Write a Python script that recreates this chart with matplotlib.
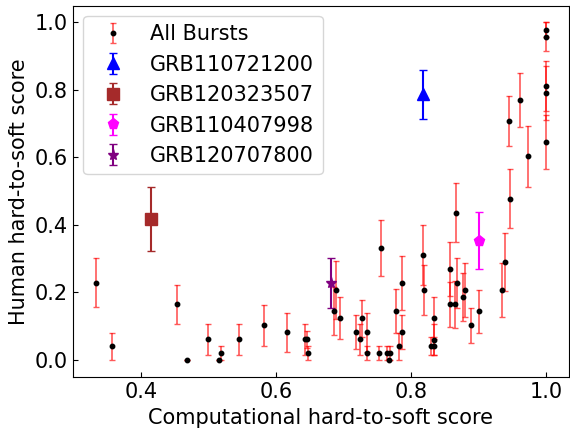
import numpy as np
import matplotlib
matplotlib.use("Agg")
import matplotlib.pyplot as plt

# all bursts: computational score, human score, error on human score
comp = [0.333, 0.357, 0.454, 0.468, 0.500, 0.516, 0.518, 0.546, 0.582, 0.616,
        0.643, 0.646, 0.648, 0.686, 0.689, 0.695, 0.718, 0.724, 0.727, 0.735,
        0.734, 0.753, 0.756, 0.764, 0.767, 0.769, 0.777, 0.782, 0.786, 0.786,
        0.817, 0.819, 0.834, 0.834, 0.829, 0.834, 0.857, 0.857, 0.865, 0.867,
        0.868, 0.877, 0.880, 0.889, 0.900, 0.935, 0.939, 0.945, 0.946, 0.961,
        0.973, 1.0, 1.0, 1.0, 1.0, 1.0]
human = [0.229, 0.040, 0.165, 0.000, 0.061, 0.000, 0.020, 0.061, 0.102, 0.082,
         0.061, 0.061, 0.020, 0.145, 0.207, 0.123, 0.082, 0.061, 0.123, 0.082,
         0.020, 0.020, 0.332, 0.020, 0.000, 0.020, 0.145, 0.040, 0.228, 0.082,
         0.311, 0.207, 0.123, 0.059, 0.040, 0.040, 0.269, 0.165, 0.165, 0.436,
         0.228, 0.186, 0.207, 0.102, 0.144, 0.207, 0.290, 0.707, 0.477, 0.769,
         0.603, 0.977, 0.957, 0.811, 0.790, 0.644]
human_err = [0.073, 0.041, 0.058, 0.0, 0.046, 0.0, 0.020, 0.046, 0.060, 0.058,
             0.046, 0.025, 0.020, 0.070, 0.085, 0.062, 0.050, 0.046, 0.055, 0.058,
             0.020, 0.020, 0.083, 0.020, 0.0, 0.020, 0.064, 0.040, 0.080, 0.050,
             0.089, 0.073, 0.062, 0.046, 0.027, 0.027, 0.080, 0.067, 0.070, 0.087,
             0.073, 0.072, 0.079, 0.052, 0.063, 0.079, 0.085, 0.073, 0.087, 0.080,
             0.090, 0.022, 0.042, 0.073, 0.079, 0.080]

# highlighted bursts
grb_names = ["GRB110721200", "GRB120323507", "GRB110407998", "GRB120707800"]
grb_comp = [0.818, 0.415, 0.900, 0.682]
grb_human = [0.786, 0.417, 0.353, 0.228]
grb_err = [0.073, 0.096, 0.085, 0.073]
grb_colors = ["blue", "brown", "magenta", "purple"]
grb_markers = ["^", "s", "p", "*"]

fig = plt.figure(figsize=(5.7, 4.3), dpi=100)
ax = fig.add_axes([0.128, 0.123, 0.870, 0.864])

ax.errorbar(comp, human, yerr=human_err, fmt="o", color="k", markersize=3.2,
            ecolor=(1, 0, 0, 0.65), elinewidth=1.2, capsize=2, label="All Bursts")

for i in range(len(grb_names)):
    ax.errorbar(grb_comp[i], grb_human[i], yerr=grb_err[i], fmt=grb_markers[i],
                color=grb_colors[i], markersize=8, capsize=3, label=grb_names[i])

ax.set_xticks([0.4, 0.6, 0.8, 1.0])
ax.set_yticks(np.arange(0, 1.01, 0.2))
ax.tick_params(direction="in", labelsize=15)

ax.set_xlabel("Computational hard-to-soft score", fontsize=15)
ax.set_ylabel("Human hard-to-soft score", fontsize=15)
ax.legend(loc="upper left", fontsize=15)

fig.savefig("out.png", dpi=100)
